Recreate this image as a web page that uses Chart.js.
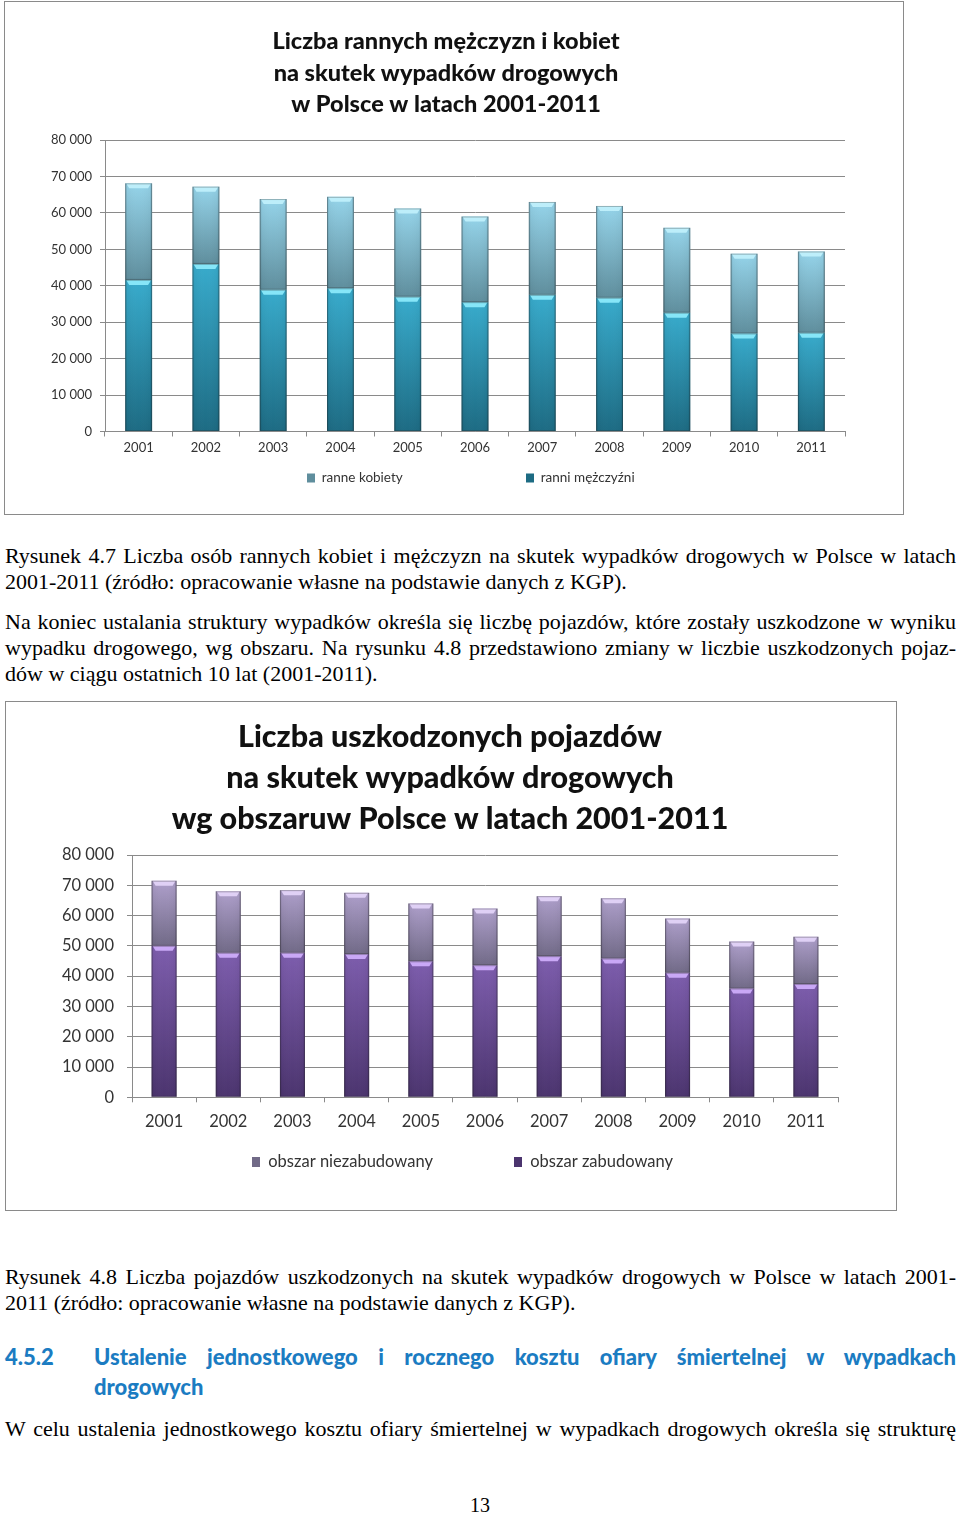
<!DOCTYPE html>
<html><head><meta charset="utf-8">
<script src="https://cdn.jsdelivr.net/npm/chart.js@4.4.1/dist/chart.umd.min.js"></script>
<style>
html,body{margin:0;padding:0;background:#fff;}
body{width:960px;height:1515px;position:relative;overflow:hidden;font-family:"Liberation Serif","Times New Roman",serif;color:#000;}
.wrap{position:absolute;background:#fff}
.wrap canvas{position:absolute;left:0;top:0}
.frame{position:absolute;left:0;top:0;right:0;bottom:0;border:1px solid #8a8a8a;pointer-events:none}
.ln{position:absolute;left:5px;width:951px;font-size:22px;line-height:26px;text-align:justify;text-align-last:justify;}
.ln.last{text-align-last:left}
.hd{position:absolute;font-family:Lato,sans-serif;font-weight:900;color:#1b7cc2;font-size:22px;line-height:30px}
</style>
</head><body>

<div class="wrap" style="left:4px;top:1px;width:900px;height:514px"><canvas id="c1" width="900" height="514"></canvas><div class="frame"></div></div>

<div class="ln" style="top:543px">Rysunek 4.7 Liczba osób rannych kobiet i mężczyzn na skutek wypadków drogowych w Polsce w latach</div>
<div class="ln last" style="top:569px">2001-2011 (źródło: opracowanie własne na podstawie danych z KGP).</div>
<div class="ln" style="top:609px">Na koniec ustalania struktury wypadków określa się liczbę pojazdów, które zostały uszkodzone w wyniku</div>
<div class="ln" style="top:635px">wypadku drogowego, wg obszaru. Na rysunku 4.8 przedstawiono zmiany w liczbie uszkodzonych pojaz-</div>
<div class="ln last" style="top:661px">dów w ciągu ostatnich 10 lat (2001-2011).</div>

<div class="wrap" style="left:5px;top:701px;width:892px;height:510px"><canvas id="c2" width="892" height="510"></canvas><div class="frame"></div></div>

<div class="ln" style="top:1264px">Rysunek 4.8 Liczba pojazdów uszkodzonych na skutek wypadków drogowych w Polsce w latach 2001-</div>
<div class="ln last" style="top:1290px">2011 (źródło: opracowanie własne na podstawie danych z KGP).</div>

<div class="hd" style="left:5px;top:1342px">4.5.2</div>
<div class="hd" style="left:94px;top:1342px;width:862px;text-align:justify;text-align-last:justify">Ustalenie jednostkowego i rocznego kosztu ofiary śmiertelnej w wypadkach</div>
<div class="hd" style="left:94px;top:1372px">drogowych</div>

<div class="ln" style="top:1416px">W celu ustalenia jednostkowego kosztu ofiary śmiertelnej w wypadkach drogowych określa się strukturę</div>
<div style="position:absolute;left:0;width:960px;top:1492px;text-align:center;font-size:20px;line-height:26px">13</div>

<script>
// ---------- DATA ----------
const years = ['2001','2002','2003','2004','2005','2006','2007','2008','2009','2010','2011'];
const yTickLabels = ['0','10 000','20 000','30 000','40 000','50 000','60 000','70 000','80 000'];

const title1 = ['Liczba rannych mężczyzn i kobiet','na skutek wypadków drogowych','w Polsce w latach 2001-2011'];
const label1Men = 'ranni mężczyźni';
const label1Women = 'ranne kobiety';
const injuredMen   = [41600, 46000, 38900, 39300, 37000, 35500, 37500, 36700, 32600, 26900, 27100];
const injuredWomen = [26500, 21200, 24900, 25100, 24200, 23500, 25500, 25200, 23300, 21900, 22300];

const title2 = ['Liczba uszkodzonych pojazdów','na skutek wypadków drogowych','wg obszaruw Polsce w latach 2001-2011'];
const label2Built = 'obszar zabudowany';
const label2Rural = 'obszar niezabudowany';
const vehiclesBuilt = [50000, 47700, 47700, 47300, 44900, 43600, 46600, 45800, 41100, 35900, 37400];
const vehiclesRural = [21500, 20300, 20700, 20200, 19100, 18700, 19800, 19900, 17900, 15500, 15600];

// ---------- HELPERS ----------
Chart.defaults.font.family = 'Lato, "Open Sans", sans-serif';
Chart.defaults.color = '#262626';

function segGrad(topC, botC, fallback){
  return (ctx) => {
    const chart = ctx.chart; const ys = chart.scales && chart.scales.y;
    if (!ys || ctx.dataIndex === undefined || ctx.type !== 'data') return fallback;
    const di = ctx.datasetIndex, i = ctx.dataIndex;
    let start = 0;
    for (let d = 0; d < di; d++) start += chart.data.datasets[d].data[i];
    const end = start + chart.data.datasets[di].data[i];
    const y0 = ys.getPixelForValue(end), y1 = ys.getPixelForValue(start);
    if (!isFinite(y0) || !isFinite(y1) || y0 === y1) return fallback;
    const g = chart.ctx.createLinearGradient(0, y0, 0, y1);
    g.addColorStop(0, topC); g.addColorStop(1, botC);
    return g;
  };
}

const bevelPlugin = {
  id: 'bevel',
  afterDatasetsDraw(chart){
    const c = chart.ctx;
    chart.data.datasets.forEach((ds, di) => {
      const meta = chart.getDatasetMeta(di);
      meta.data.forEach(el => {
        const p = el.getProps(['x','y','base','width'], true);
        const l = p.x - p.width/2, r = p.x + p.width/2;
        const t = Math.min(p.y, p.base), b = Math.max(p.y, p.base);
        c.save();
        const sg = c.createLinearGradient(l, 0, r, 0);
        sg.addColorStop(0, 'rgba(0,0,0,0.20)');
        sg.addColorStop(0.08, 'rgba(0,0,0,0.03)');
        sg.addColorStop(0.5, 'rgba(255,255,255,0.0)');
        sg.addColorStop(0.92, 'rgba(0,0,0,0.03)');
        sg.addColorStop(1, 'rgba(0,0,0,0.22)');
        c.fillStyle = sg; c.fillRect(l, t, r - l, b - t);
        c.fillStyle = ds.bevelColor;
        c.beginPath();
        c.moveTo(l + 1, t); c.lineTo(r - 1, t); c.lineTo(r - 4, t + 5); c.lineTo(l + 4, t + 5);
        c.closePath(); c.fill();
        c.strokeStyle = 'rgba(40,40,40,0.30)'; c.lineWidth = 1;
        c.strokeRect(l + 0.5, t + 0.5, r - l - 1, b - t - 1);
        c.restore();
      });
    });
  }
};

function legendPlacer(cfg){
  return {
    id: 'legendPlacer',
    afterInit(chart){
      const lg = chart.legend; if (!lg) return;
      const of = lg.fit;
      lg.fit = function(){ of.call(this); this.height = cfg.h; };
    },
    afterLayout(chart){
      const lg = chart.legend; if (!lg) return;
      const P = lg.options.labels.padding;
      const ih = Math.max(cfg.fs, lg.options.labels.boxHeight);
      lg.top = cfg.cy - ih/2 - P;
      lg.left = cfg.x1 - P;
    }
  };
}

function measure(text, font){
  const m = document.createElement('canvas').getContext('2d');
  m.font = font; return m.measureText(text).width;
}

function makeChart(id, o){
  const fsL = o.legendFs;
  const textW1 = measure(o.topLabel, fsL + 'px Lato');
  const P = o.x2 - o.x1 - (o.boxW + fsL/2 + textW1);
  return new Chart(document.getElementById(id), {
    type: 'bar',
    data: {
      labels: years,
      datasets: [
        { label: o.bottomLabel, data: o.bottomData,
          backgroundColor: segGrad(o.botTop, o.botBot, o.botLegend), borderWidth: 0,
          bevelColor: o.botBevel, barPercentage: o.barPct, categoryPercentage: 1 },
        { label: o.topLabel, data: o.topData,
          backgroundColor: segGrad(o.topTop, o.topBot, o.topLegend), borderWidth: 0,
          bevelColor: o.topBevel, barPercentage: o.barPct, categoryPercentage: 1 }
      ]
    },
    options: {
      responsive: false, animation: false, devicePixelRatio: 1,
      layout: { padding: { left: o.padL, right: o.padR, top: 0, bottom: 0 } },
      plugins: {
        title: { display: true, text: o.title, color: '#111',
          font: { size: o.titleFs, weight: 900, lineHeight: o.titleLh },
          padding: { top: o.titlePadT, bottom: o.titlePadB } },
        legend: { position: 'bottom', align: 'start', reverse: true,
          labels: { boxWidth: o.boxW, boxHeight: o.boxH, padding: P,
            font: { size: fsL }, color: '#333' } },
        tooltip: { enabled: false }
      },
      scales: {
        x: { stacked: true,
          grid: { display: true, drawOnChartArea: false, drawTicks: true, tickLength: 5, color: '#8a8a8a', offset: true },
          border: { display: true, color: '#8a8a8a' },
          ticks: { font: { size: o.tickFs }, color: '#333', padding: o.xPad, maxRotation: 0 },
          afterFit(s){ s.height = o.xH; } },
        y: { stacked: true, min: 0, max: 80000,
          grid: { color: '#8a8a8a', tickLength: 5 },
          border: { display: true, color: '#8a8a8a' },
          ticks: { stepSize: 10000, font: { size: o.tickFs }, color: '#333', padding: o.yPad,
            callback: (v, i) => yTickLabels[i] },
          afterFit(s){ s.width = o.yW; } }
      }
    },
    plugins: [bevelPlugin, legendPlacer({ h: o.legendH, fs: fsL, cy: o.legendCy, x1: o.x1 })]
  });
}

makeChart('c1', {
  title: title1, titleFs: 23.5, titleLh: 31.5/23.5, titlePadT: 25, titlePadB: 19.5,
  bottomLabel: label1Men, bottomData: injuredMen, topLabel: label1Women, topData: injuredWomen,
  botTop: '#38abcc', botBot: '#1d6b83', botLegend: '#2a8fae', botBevel: '#86e6f8',
  topTop: '#95d4ea', topBot: '#5f8e9d', topLegend: '#7ab7cd', topBevel: '#bdeefa',
  barPct: 0.40, padL: 43, padR: 59, yW: 58, xH: 43.5, legendH: 40,
  tickFs: 13, xPad: 4, yPad: 8, legendFs: 13.5, boxW: 8, boxH: 9,
  legendCy: 477, x1: 303, x2: 522
});

makeChart('c2', {
  title: title2, titleFs: 30.5, titleLh: 41/30.5, titlePadT: 15.5, titlePadB: 15.5,
  bottomLabel: label2Built, bottomData: vehiclesBuilt, topLabel: label2Rural, topData: vehiclesRural,
  botTop: '#7d5dad', botBot: '#4b346e', botLegend: '#64478e', botBevel: '#c9a8f6',
  topTop: '#ae9fcb', topBot: '#716a87', topLegend: '#8f84a8', topBevel: '#dfd0f5',
  barPct: 0.39, padL: 57, padR: 59, yW: 70, xH: 73.7, legendH: 40,
  tickFs: 16.5, xPad: 9, yPad: 13, legendFs: 16.5, boxW: 8, boxH: 10,
  legendCy: 461, x1: 247, x2: 509
});
</script>
</body></html>
